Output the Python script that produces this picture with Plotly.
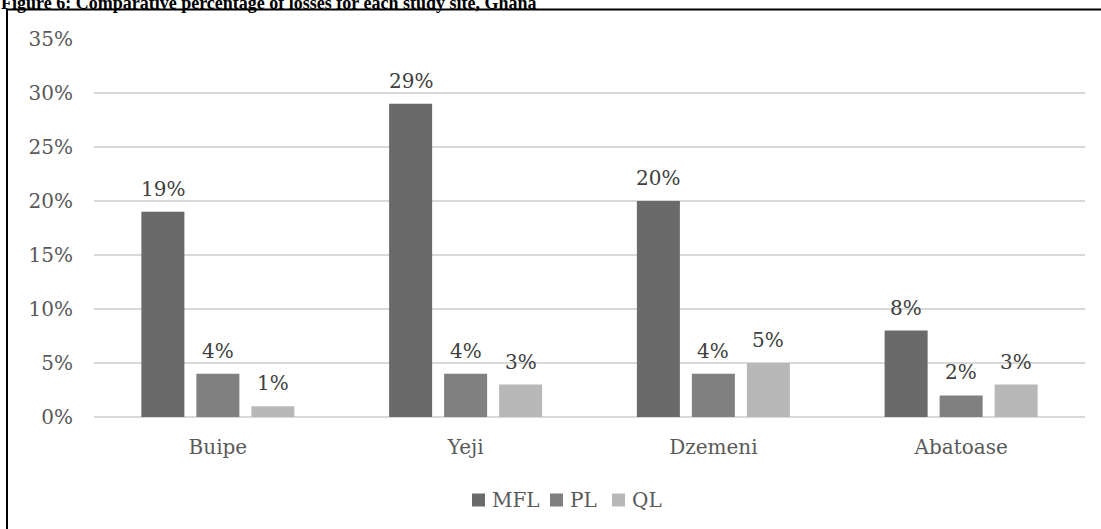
import plotly.graph_objects as go

# Study sites and loss percentages per loss type
sites = ["Buipe", "Yeji", "Dzemeni", "Abatoase"]
mfl = [19, 29, 20, 8]
pl = [4, 4, 4, 2]
ql = [1, 3, 5, 3]
series_names = ["MFL", "PL", "QL"]
series_colors = ["#6a6a6a", "#808080", "#b8b8b8"]
y_ticks = [0, 5, 10, 15, 20, 25, 30, 35]
y_tick_labels = [f"{v}%" for v in y_ticks]

W, H = 1101, 529
L, R, T, B = 94, 16, 39, 112
PW, PH = W - L - R, H - T - B

def xp(px):
    return (px - L) / PW

def yp(py):
    return (H - B - py) / PH

FONT = "DejaVu Serif"
fig = go.Figure()
series = [mfl, pl, ql]
for name, vals, col in zip(series_names, series, series_colors):
    fig.add_trace(go.Bar(x=sites, y=vals, name=name, marker_color=col,
                         marker_line_width=0, showlegend=False))

# value labels above each bar
slot = 55
offsets = [-slot, 0, slot]
annotations = []
for vals, off in zip(series, offsets):
    for s, v in zip(sites, vals):
        annotations.append(dict(x=s, y=v, xref="x", yref="y", text=f"{v}%",
                                showarrow=False, xshift=off, yshift=23,
                                yanchor="middle",
                                font=dict(family=FONT, size=20, color="#404040")))

# title line
annotations.append(dict(x=xp(-1), y=yp(3), xref="paper", yref="paper",
                        xanchor="left", yanchor="middle", showarrow=False,
                        text="<b>Figure 6: Comparative percentage of losses for each study site, Ghana</b>",
                        font=dict(family="Liberation Serif", size=18, color="#000000")))

# legend entries
shapes = []
legend_sq = [472, 550, 612]
legend_tx = [490, 568, 630]
legend_y = 500
for name, col, sx, tx in zip(series_names, series_colors, legend_sq, legend_tx):
    shapes.append(dict(type="rect", xref="paper", yref="paper",
                       x0=xp(sx), x1=xp(sx + 13), y0=yp(legend_y - 6.5), y1=yp(legend_y + 6.5),
                       fillcolor=col, line_width=0))
    annotations.append(dict(x=xp(tx), y=yp(legend_y), xref="paper", yref="paper",
                            xanchor="left", yanchor="middle", showarrow=False, text=name,
                            font=dict(family=FONT, size=20, color="#595959")))

# chart frame (left and top edges)
shapes.append(dict(type="path", xref="paper", yref="paper",
                   path=f"M {xp(7)} {yp(560)} L {xp(7)} {yp(9.5)} L {xp(1120)} {yp(9.5)}",
                   line=dict(color="#000000", width=2)))

fig.update_layout(
    width=W, height=H,
    margin=dict(l=L, r=R, t=T, b=B, pad=0),
    paper_bgcolor="white", plot_bgcolor="white",
    barmode="group", bargap=0.334, bargroupgap=0.218,
    font=dict(family=FONT, size=20, color="#595959"),
    annotations=annotations, shapes=shapes,
    showlegend=False,
)
fig.update_xaxes(showgrid=False, showline=False, ticks="",
                 tickfont=dict(family=FONT, size=20, color="#595959"),
                 ticklabelstandoff=16)
fig.update_yaxes(range=[0, 35], tickmode="array", tickvals=y_ticks, ticktext=y_tick_labels,
                 showgrid=True, gridcolor="#d9d9d9", gridwidth=1.5,
                 zeroline=True, zerolinecolor="#d9d9d9", zerolinewidth=1.5,
                 showline=False, ticks="",
                 tickfont=dict(family=FONT, size=20, color="#595959"),
                 ticklabelstandoff=20)

fig.write_html("out.html")
